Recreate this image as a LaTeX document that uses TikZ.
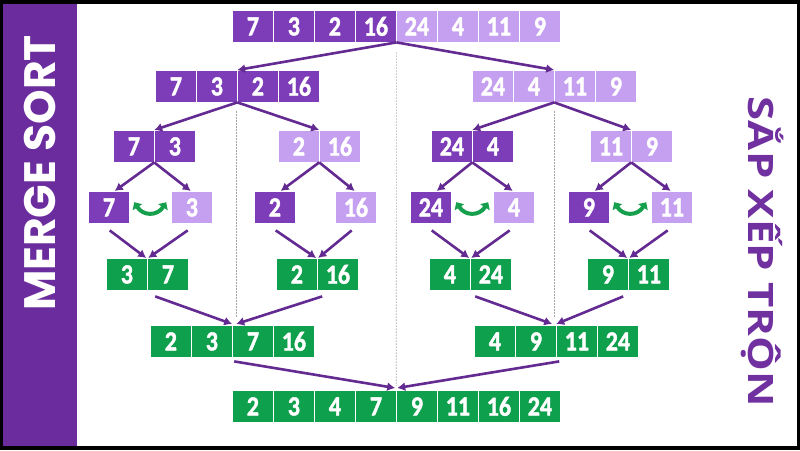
\documentclass[tikz,border=0pt]{standalone}
\usepackage{fontspec}
\usetikzlibrary{arrows.meta,calc}
\newfontfamily\dgfont{Carlito}[FakeBold=1.6]
\newfontfamily\popfont{Poppins}
\newfontfamily\vnfont{Open Sans}
\definecolor{dk}{HTML}{7D3DB8}
\definecolor{lt}{HTML}{C6A0F0}
\definecolor{gr}{HTML}{0EA04C}
\definecolor{bar}{HTML}{6B2D9E}
\definecolor{arc}{HTML}{632A92}
\definecolor{ttl}{HTML}{7030A0}
\definecolor{swp}{HTML}{16A04E}
\newcommand\dg[1]{{\dgfont\bfseries\fontsize{24}{24}\selectfont\scalebox{1}[1.15]{#1}}}
\newcommand\cellgroup[6]{%
  \node[grpbox, minimum width={41pt*#5}] (#1) at (#2,#3) {};
  \foreach \v [count=\i] in {#6} {
    \node[cellbox, fill=#4] (#1-\i) at ({#2+41*(\i-1)},#3) {\dg{\v}};
  }%
}
\begin{document}
\begin{tikzpicture}[x=1pt,y=-1pt,
  cellbox/.style={draw=white, line width=0.8pt, minimum width=41pt, minimum height=32pt, inner sep=0pt, text=white, anchor=north west},
  grpbox/.style={minimum height=32pt, inner sep=0pt, anchor=north west},
  arr/.style={draw=arc, line width=2.6pt, -{Latex[length=8pt,width=9pt]}},
  dotline/.style={draw=gray!70, line width=0.6pt, dash pattern=on 1.5pt off 1.5pt},
  swap/.style={draw=swp, line width=4pt, {Triangle[length=6pt,width=11pt]}-{Triangle[length=6pt,width=11pt]}}]
\useasboundingbox (0,0) rectangle (800,450);
\fill[black] (0,0) rectangle (800,450);
\fill[white] (3,4) rectangle (797,446);
\fill[bar] (3,4) rectangle (77,446);
\node[rotate=90, text=white, inner sep=0pt] (title) at (40,173)
  {\scalebox{1.0}[1.0]{\popfont\bfseries\fontsize{44}{44}\selectfont MERGE SORT}};
\node[rotate=-90, text=ttl, inner sep=0pt] (title2) at (762,252)
  {\scalebox{1.25}[1]{\vnfont\bfseries\fontsize{35}{35}\selectfont SẮP XẾP TRỘN}};

% rows
\cellgroup{t1}{232}{10}{dk}{4}{7,3,2,16}
\cellgroup{t2}{396}{10}{lt}{4}{24,4,11,9}
\cellgroup{bL}{155}{70}{dk}{4}{7,3,2,16}
\cellgroup{bR}{472}{70}{lt}{4}{24,4,11,9}
\cellgroup{ca}{113}{130}{dk}{2}{7,3}
\cellgroup{cb}{278}{130}{lt}{2}{2,16}
\cellgroup{cc}{431}{130}{dk}{2}{24,4}
\cellgroup{cd}{590}{130}{lt}{2}{11,9}
\cellgroup{da}{88}{191}{dk}{1}{7}
\cellgroup{db}{171}{191}{lt}{1}{3}
\cellgroup{dc}{254}{191}{dk}{1}{2}
\cellgroup{dd}{335}{191}{lt}{1}{16}
\cellgroup{de}{410}{191}{dk}{1}{24}
\cellgroup{df}{493}{191}{lt}{1}{4}
\cellgroup{dg}{568}{191}{dk}{1}{9}
\cellgroup{dh}{651}{191}{lt}{1}{11}
\cellgroup{ea}{106}{258}{gr}{2}{3,7}
\cellgroup{eb}{276}{258}{gr}{2}{2,16}
\cellgroup{ec}{429}{258}{gr}{2}{4,24}
\cellgroup{ed}{587}{258}{gr}{2}{9,11}
\cellgroup{fL}{150}{325}{gr}{4}{2,3,7,16}
\cellgroup{fR}{474}{325}{gr}{4}{4,9,11,24}
\cellgroup{g}{232}{390}{gr}{8}{2,3,4,7,9,11,16,24}

% dotted guides
\draw[dotline] ($(t1.south east)+(0,10)$) -- ($(g.north)+(0,-4)$);
\draw[dotline] ($(bL.south)+(-1,9)$) -- ($(bL.south)+(-1,216)$);
\draw[dotline] ($(bR.south)+(0,9)$) -- ($(bR.south)+(0,216)$);

% split arrows
\draw[arr] (t1.south east) -- (bL.north);
\draw[arr] (t1.south east) -- (bR.north);
\draw[arr] (bL.south) -- (ca.north);
\draw[arr] (bL.south) -- (cb.north);
\draw[arr] (bR.south) -- (cc.north);
\draw[arr] (bR.south) -- (cd.north);
\draw[arr] (ca.south) -- ($(da.north)+(6,0)$);
\draw[arr] (ca.south) -- ($(db.north)+(-1,0)$);
\draw[arr] (cb.south) -- ($(dc.north)+(6,0)$);
\draw[arr] (cb.south) -- ($(dd.north)+(-1,0)$);
\draw[arr] (cc.south) -- ($(de.north)+(6,0)$);
\draw[arr] (cc.south) -- ($(df.north)+(-1,0)$);
\draw[arr] (cd.south) -- ($(dg.north)+(6,0)$);
\draw[arr] (cd.south) -- ($(dh.north)+(-1,0)$);

% merge arrows
\draw[arr] ($(da.south)+(1,7)$) -- ($(ea.north)+(-1,0)$);
\draw[arr] ($(db.south)+(-4,7)$) -- ($(ea.north)+(1,0)$);
\draw[arr] ($(dc.south)+(1,7)$) -- ($(eb.north)+(-1,0)$);
\draw[arr] ($(dd.south)+(-4,7)$) -- ($(eb.north)+(1,0)$);
\draw[arr] ($(de.south)+(1,7)$) -- ($(ec.north)+(-1,0)$);
\draw[arr] ($(df.south)+(-4,7)$) -- ($(ec.north)+(1,0)$);
\draw[arr] ($(dg.south)+(1,7)$) -- ($(ed.north)+(-1,0)$);
\draw[arr] ($(dh.south)+(-4,7)$) -- ($(ed.north)+(1,0)$);
\draw[arr] ($(ea.south)+(8,6)$) -- ($(fL.north)+(0,-1)$);
\draw[arr] ($(eb.south)+(5,6)$) -- ($(fL.north)+(4,-1)$);
\draw[arr] ($(ec.south)+(5,6)$) -- ($(fR.north)+(-4,-1)$);
\draw[arr] ($(ed.south)+(-5,6)$) -- ($(fR.north)+(0,-1)$);
\draw[arr] ($(fL.south)+(2,4)$) -- ($(g.north)+(-1,-2)$);
\draw[arr] ($(fR.south)+(3,4)$) -- ($(g.north)+(1,-2)$);

% swap marks
\foreach \a/\b/\n in {da/db/s1, de/df/s2, dg/dh/s3} {
  \coordinate (\n) at ($(\a.east)!0.5!(\b.west)$);
  \draw[swap] ($(\n)+(-16,-5)$) .. controls ($(\n)+(-7,9)$) and ($(\n)+(7,9)$) .. ($(\n)+(16,-5)$);
}
\end{tikzpicture}
\end{document}
